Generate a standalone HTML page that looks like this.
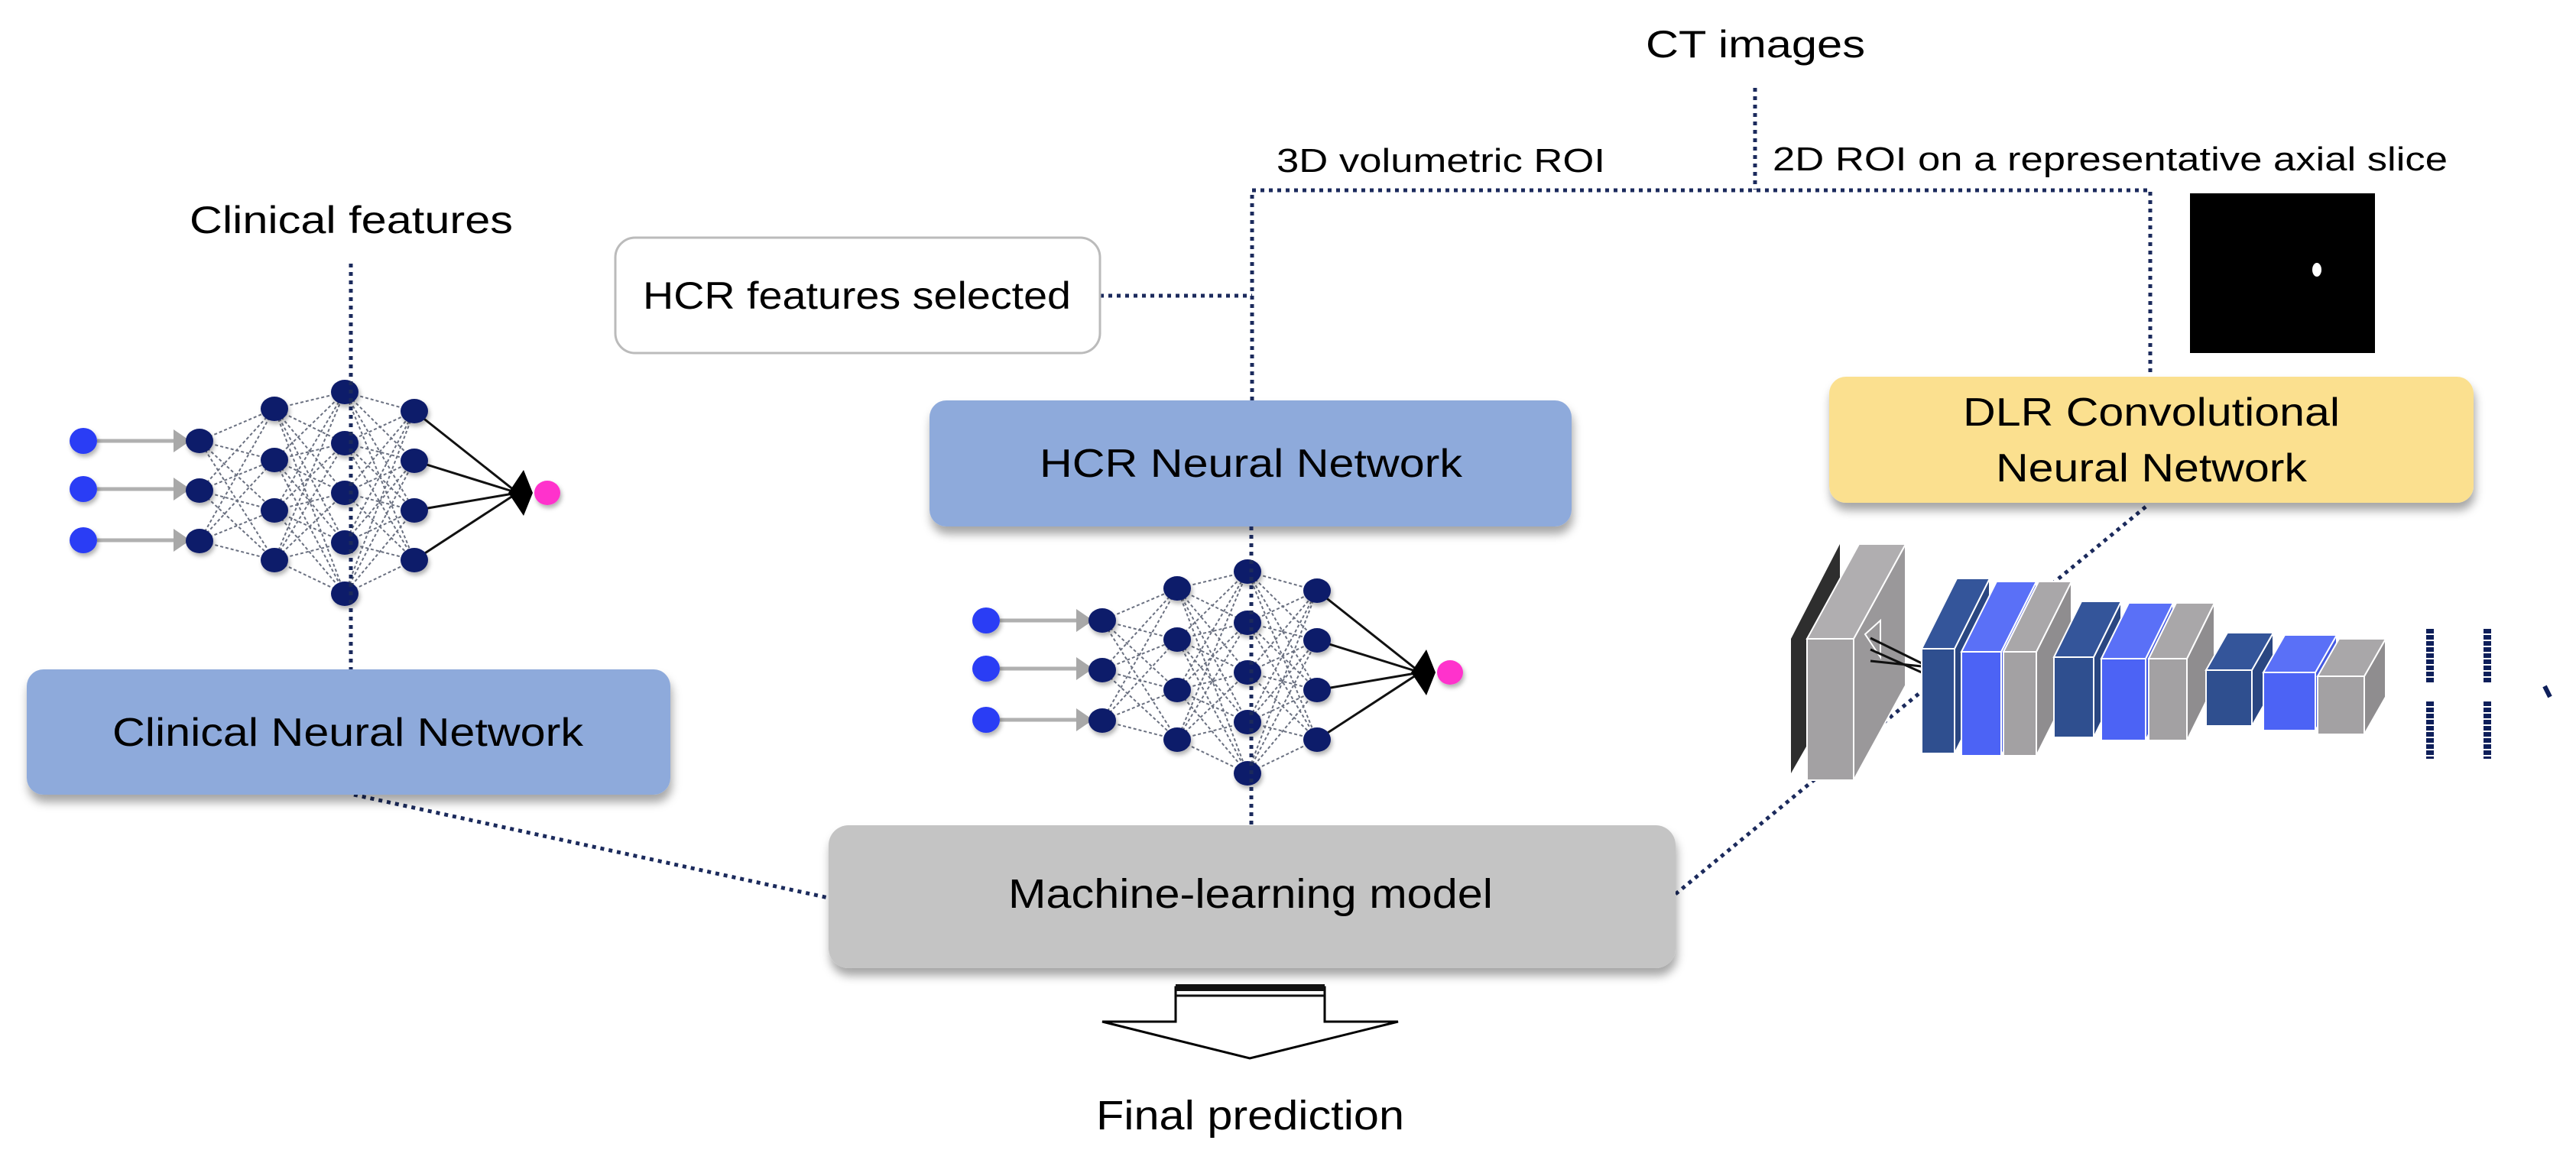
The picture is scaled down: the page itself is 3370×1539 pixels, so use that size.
<!DOCTYPE html>
<html><head><meta charset="utf-8">
<style>
html,body{margin:0;padding:0;background:#fff;}
svg{display:block;}
text{font-family:"Liberation Sans",Arial,sans-serif;fill:#000;}
</style></head>
<body>
<svg id="s" width="3370" height="1539" viewBox="0 0 3370 1539" xmlns="http://www.w3.org/2000/svg">
<defs>
<filter id="sh" x="-10%" y="-20%" width="130%" height="150%">
<feDropShadow dx="2" dy="10" stdDeviation="6" flood-color="#000" flood-opacity="0.35"/>
</filter>
<filter id="nsh" x="-50%" y="-50%" width="200%" height="200%">
<feDropShadow dx="2" dy="4" stdDeviation="3" flood-color="#000" flood-opacity="0.3"/>
</filter>
</defs>
<rect width="3370" height="1539" fill="#fff"/>

<!-- dotted connectors -->
<g stroke="#1b2a5c" stroke-width="5" stroke-dasharray="5 6" fill="none">
<line x1="2296" y1="115" x2="2296" y2="248"/>
<polyline points="1638,524 1638,249 2813,249 2813,490"/>
<line x1="1439" y1="387" x2="1638" y2="387"/>
<line x1="459" y1="345" x2="459" y2="876"/>
<line x1="1637" y1="689" x2="1637" y2="1080"/>
<line x1="463" y1="1040" x2="1084" y2="1175"/>
<line x1="2192" y1="1170" x2="2811" y2="660"/>
</g>

<!-- texts top -->
<text x="2153" y="75" font-size="50" textLength="287" lengthAdjust="spacingAndGlyphs">CT images</text>
<text x="1670" y="225" font-size="44" textLength="430" lengthAdjust="spacingAndGlyphs">3D volumetric ROI</text>
<text x="2319" y="223" font-size="44" textLength="883" lengthAdjust="spacingAndGlyphs">2D ROI on a representative axial slice</text>
<text x="248" y="305" font-size="50" textLength="423" lengthAdjust="spacingAndGlyphs">Clinical features</text>

<!-- CT mask -->
<rect x="2865" y="253" width="242" height="209" fill="#000"/>
<ellipse cx="3031" cy="353" rx="6" ry="9" fill="#fff"/>

<!-- HCR features selected -->
<rect x="805" y="311" width="634" height="151" rx="26" fill="#fff" stroke="#bbb" stroke-width="3"/>
<text x="841" y="404" font-size="50" textLength="560" lengthAdjust="spacingAndGlyphs">HCR features selected</text>

<!-- boxes -->
<rect x="1216" y="524" width="840" height="165" rx="22" fill="#8eaadb" filter="url(#sh)"/>
<text x="1360" y="624" font-size="52" textLength="553" lengthAdjust="spacingAndGlyphs">HCR Neural Network</text>

<rect x="35" y="876" width="842" height="164" rx="22" fill="#8eaadb" filter="url(#sh)"/>
<text x="147" y="976" font-size="52" textLength="616" lengthAdjust="spacingAndGlyphs">Clinical Neural Network</text>

<rect x="2393" y="493" width="843" height="165" rx="22" fill="#fbe08f" filter="url(#sh)"/>
<text x="2568" y="557" font-size="52" textLength="493" lengthAdjust="spacingAndGlyphs">DLR Convolutional</text>
<text x="2611" y="630" font-size="52" textLength="407" lengthAdjust="spacingAndGlyphs">Neural Network</text>

<rect x="1084" y="1080" width="1108" height="187" rx="26" fill="#c4c4c4" filter="url(#sh)"/>
<text x="1319" y="1188" font-size="54" textLength="634" lengthAdjust="spacingAndGlyphs">Machine-learning model</text>

<!-- arrow -->
<path d="M1538,1292 L1733,1292 L1733,1337 L1829,1337 L1635,1385 L1442,1337 L1538,1337 Z" fill="#fff" stroke="#000" stroke-width="3"/>
<rect x="1538" y="1288" width="195" height="9" fill="#111"/>
<line x1="1538" y1="1303" x2="1733" y2="1303" stroke="#111" stroke-width="3"/>
<text x="1434" y="1478" font-size="54" textLength="403" lengthAdjust="spacingAndGlyphs">Final prediction</text>

<!-- neural nets -->
<g id="nnL" transform="translate(-1181,-235)"></g>
<g id="nnM"></g>
<!-- redraw dotted over middle net -->
<line x1="1637" y1="689" x2="1637" y2="1080" stroke="#1b2a5c" stroke-width="5" stroke-dasharray="5 6"/>
<line x1="459" y1="345" x2="459" y2="876" stroke="#1b2a5c" stroke-width="5" stroke-dasharray="5 6"/>

<!-- CNN -->
<g id="cnn" stroke="#fff" stroke-width="2">
<polygon points="2343,836 2407,712 2407,900 2343,1012" fill="#2e2e2e" stroke="none"/>
</g>
<g fill="#0e1f5a">
<line x1="3179" y1="823" x2="3179" y2="894" stroke="#0e1f5a" stroke-width="10" stroke-dasharray="6 2"/>
<line x1="3179" y1="918" x2="3179" y2="993" stroke="#0e1f5a" stroke-width="10" stroke-dasharray="6 2"/>
<line x1="3254" y1="823" x2="3254" y2="894" stroke="#0e1f5a" stroke-width="10" stroke-dasharray="6 2"/>
<line x1="3254" y1="918" x2="3254" y2="993" stroke="#0e1f5a" stroke-width="10" stroke-dasharray="6 2"/>
<line x1="3329" y1="898" x2="3336" y2="912" stroke="#0e1f5a" stroke-width="6"/>
</g>
</svg>
<script>
var NS="http://www.w3.org/2000/svg";
function el(p,t,a){var e=document.createElementNS(NS,t);for(var k in a)e.setAttribute(k,a[k]);p.appendChild(e);return e;}
function buildNet(g){
 var inX=1290, inY=[812,875,942];
 var L=[[1442,[812,877,943]],[1540,[770,837,903,968]],[1632,[748,815,880,945,1012]],[1723,[773,838,903,968]]];
 // arrows
 inY.forEach(function(y){
  el(g,"line",{x1:inX+18,y1:y,x2:inX+125,y2:y,stroke:"#b0b0b0","stroke-width":5});
  el(g,"polygon",{points:(inX+118)+","+(y-15)+" "+(inX+140)+","+y+" "+(inX+118)+","+(y+15),fill:"#a8a8a8"});
 });
 for(var i=0;i<L.length-1;i++){
  L[i][1].forEach(function(a){L[i+1][1].forEach(function(b){
   el(g,"line",{x1:L[i][0],y1:a,x2:L[i+1][0],y2:b,stroke:"#6a7080","stroke-width":2,"stroke-dasharray":"4 3"});
  });});
 }
 L[3][1].forEach(function(a){el(g,"line",{x1:1723,y1:a,x2:1858,y2:880,stroke:"#111","stroke-width":3});});
 el(g,"polygon",{points:"1846,880 1866,850 1878,880 1866,910",fill:"#000"});
 el(g,"ellipse",{cx:1897,cy:880,rx:17,ry:16,fill:"#ff33cc",filter:"url(#nsh)"});
 inY.forEach(function(y){el(g,"ellipse",{cx:inX,cy:y,rx:18,ry:17,fill:"#2a3cf5",filter:"url(#nsh)"});});
 L.forEach(function(l){l[1].forEach(function(y){el(g,"ellipse",{cx:l[0],cy:y,rx:18,ry:16,fill:"#0e1a6b",filter:"url(#nsh)"});});});
}
buildNet(document.getElementById("nnM"));
buildNet(document.getElementById("nnL"));
var c=document.getElementById("cnn");
function block(x,y,w,h,dx,dy,front,top,side){
 el(c,"polygon",{points:(x+w)+","+y+" "+(x+w+dx)+","+(y-dy)+" "+(x+w+dx)+","+(y+h-dy)+" "+(x+w)+","+(y+h),fill:side});
 el(c,"polygon",{points:x+","+y+" "+(x+dx)+","+(y-dy)+" "+(x+w+dx)+","+(y-dy)+" "+(x+w)+","+y,fill:top});
 el(c,"rect",{x:x,y:y,width:w,height:h,fill:front});
}
var DB=["#2f4f8f","#34559a","#2a4681"],BB=["#4c63f5","#5a70f7","#4358e0"],GG=["#a3a1a3","#a9a7a9","#8f8d8f"];
block(2364,836,61,185,68,124,"#a3a1a3","#b0aeb0","#9a989a");
el(c,"polygon",{points:"2440,830 2460,812 2460,860",fill:"none",stroke:"#fff","stroke-width":2});
el(c,"line",{x1:2447,y1:835,x2:2514,y2:868,stroke:"#111","stroke-width":3});
el(c,"line",{x1:2447,y1:850,x2:2514,y2:880,stroke:"#111","stroke-width":3});
el(c,"line",{x1:2447,y1:865,x2:2514,y2:872,stroke:"#111","stroke-width":3});
block(2514,849,43,137,46,92,DB[0],DB[1],DB[2]);
block(2566,853,52,136,46,92,BB[0],BB[1],BB[2]);
block(2621,853,43,136,46,92,GG[0],GG[1],GG[2]);
block(2687,860,52,105,36,73,DB[0],DB[1],DB[2]);
block(2749,862,58,107,36,73,BB[0],BB[1],BB[2]);
block(2811,862,50,107,36,73,GG[0],GG[1],GG[2]);
block(2886,877,60,73,28,49,DB[0],DB[1],DB[2]);
block(2961,880,68,76,28,49,BB[0],BB[1],BB[2]);
block(3032,885,61,76,28,49,GG[0],GG[1],GG[2]);
</script>
</body></html>
